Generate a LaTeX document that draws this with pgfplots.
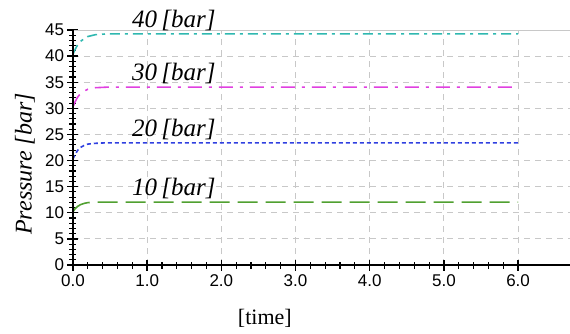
\documentclass[border=0pt]{standalone}
\usepackage{pgfplots}
\pgfplotsset{compat=1.18}
\usepackage{fontspec}
\setmainfont{Liberation Serif}
\newfontfamily\tickfont{Liberation Sans}
\definecolor{c40}{HTML}{2FB8B0}
\definecolor{c30}{HTML}{E040E0}
\definecolor{c20}{HTML}{3040E0}
\definecolor{c10}{HTML}{50A030}
\definecolor{gridc}{HTML}{C8C8C8}
\begin{document}
\begin{tikzpicture}
\path[use as bounding box] (-73pt,-68pt) rectangle (497pt,265pt);
\begin{axis}[
  at={(0,0)}, anchor=origin,
  scale only axis, width=497pt, height=235pt,
  xmin=0, xmax=6.7, ymin=0, ymax=45,
  axis line style={draw=none},
  xtick pos=bottom, ytick pos=left,
  xtick={0,1,...,6}, ytick={0,5,...,45},
  minor xtick={0.2,0.4,...,6.01},
  minor ytick={0,1,...,45},
  xticklabels={0.0,1.0,2.0,3.0,4.0,5.0,6.0},
  major tick length=11pt, minor tick length=7pt,
  tick align=center,
  major tick style={draw=black, line width=1.4pt},
  minor tick style={draw=black, line width=1.1pt},
  ticklabel style={font=\tickfont\fontsize{17}{17}\selectfont},
  /pgf/number format/assume math mode=true,
  xticklabel style={yshift=-1pt},
  yticklabel style={xshift=0pt},
  xmajorgrids=true, ymajorgrids=true,
  major grid style={gridc, dash pattern=on 6pt off 5pt, line width=0.8pt},
  xlabel={[time]},
  xlabel style={font=\fontsize{22}{22}\selectfont, at={(axis description cs:0.386,-0.225)}, anchor=center},
  ylabel={\itshape Pressure [bar]},
  ylabel style={font=\fontsize{24}{24}\selectfont, at={(axis description cs:-0.097,0.43)}, anchor=center, rotate=0},
]
\addplot[c10, line width=1.6pt, dash pattern=on 20pt off 8pt] coordinates {
 (0,10.2) (0.03,10.8) (0.06,11.2) (0.1,11.55) (0.15,11.8) (0.2,11.95) (0.3,12.05) (6,12.05)};
\addplot[c20, line width=1.6pt, dash pattern=on 4pt off 3pt] coordinates {
 (0,20.3) (0.03,21.2) (0.06,21.9) (0.1,22.5) (0.15,22.9) (0.2,23.15) (0.3,23.3) (0.45,23.4) (6,23.4)};
\addplot[c30, line width=1.6pt, dash pattern=on 14pt off 7pt on 3pt off 7pt] coordinates {
 (0,30.3) (0.03,31.3) (0.06,32.1) (0.1,32.8) (0.15,33.3) (0.2,33.65) (0.3,33.95) (0.45,34.05) (6,34.05)};
\addplot[c40, line width=1.6pt, dash pattern=on 10pt off 5pt on 3pt off 5pt] coordinates {
 (0,40.4) (0.03,41.3) (0.06,42.1) (0.1,42.8) (0.15,43.35) (0.2,43.75) (0.3,44.1) (0.45,44.25) (6,44.25)};
\end{axis}
\begin{scope}
\draw[gridc, line width=1pt] (0pt,235pt) -- (497pt,235pt);
\draw[black, line width=1.4pt] (0pt,235pt) -- (0pt,0pt) -- (497pt,0pt);
\node[anchor=south west, font=\itshape\fontsize{25}{25}\selectfont, inner sep=0pt] at (59pt,234pt) {40\,[bar]};
\node[anchor=south west, font=\itshape\fontsize{25}{25}\selectfont, inner sep=0pt] at (59pt,180.5pt) {30\,[bar]};
\node[anchor=south west, font=\itshape\fontsize{25}{25}\selectfont, inner sep=0pt] at (59pt,124.8pt) {20\,[bar]};
\node[anchor=south west, font=\itshape\fontsize{25}{25}\selectfont, inner sep=0pt] at (59pt,66.3pt) {10\,[bar]};
\end{scope}
\end{tikzpicture}
\end{document}
